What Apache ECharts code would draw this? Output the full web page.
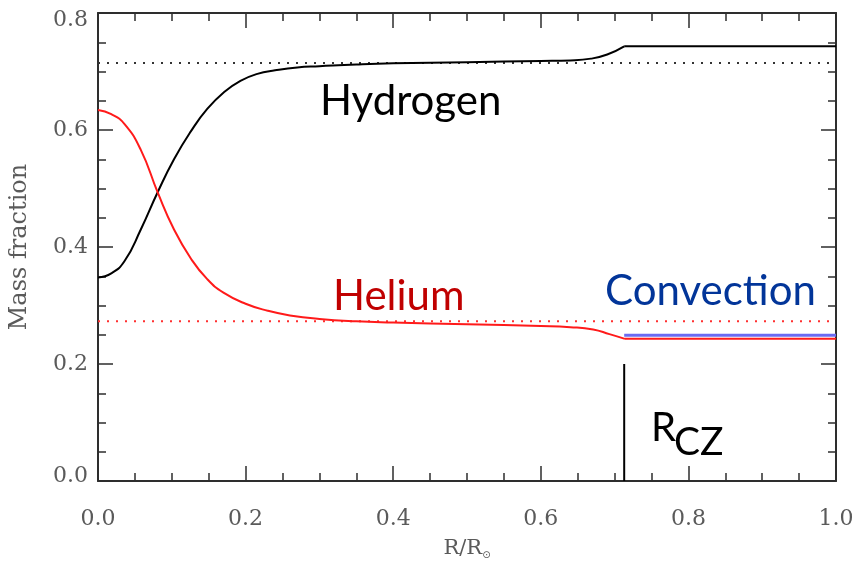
<!DOCTYPE html>
<html>
<head>
<meta charset="utf-8">
<script src="https://cdn.jsdelivr.net/npm/echarts@6/dist/echarts.min.js"></script>
<style>
  html, body { margin: 0; padding: 0; background: #fff; }
  #container { width: 858px; height: 565px; }
</style>
</head>
<body>
<div id="container"></div>
<script>
var dom = document.getElementById("container");
var myChart = echarts.init(dom);

// hydrogen profile (radius, mass fraction)
var hydrogenR = [0, 0.018, 0.036, 0.058, 0.081, 0.103, 0.126, 0.148, 0.171, 0.193, 0.216, 0.24, 0.27, 0.3, 0.35, 0.4, 0.5, 0.6, 0.64, 0.668, 0.69, 0.713, 1.0];
var hydrogenX = [0.348, 0.355, 0.376, 0.430, 0.494, 0.550, 0.598, 0.636, 0.665, 0.684, 0.696, 0.702, 0.707, 0.709, 0.712, 0.714, 0.716, 0.718, 0.719, 0.722, 0.729, 0.743, 0.743];
// helium profile
var heliumR = [0, 0.018, 0.036, 0.058, 0.081, 0.103, 0.126, 0.148, 0.17, 0.2, 0.23, 0.26, 0.3, 0.35, 0.4, 0.5, 0.6, 0.64, 0.671, 0.693, 0.714, 1.0];
var heliumY = [0.634, 0.627, 0.610, 0.566, 0.493, 0.430, 0.380, 0.345, 0.322, 0.303, 0.291, 0.283, 0.277, 0.273, 0.271, 0.268, 0.265, 0.263, 0.259, 0.251, 0.243, 0.243];
// reference levels
var hydrogenInit = 0.7145;
var heliumInit = 0.273;
var convR = [0.713, 1.0];
var convLevel = 0.249;
var rcz = 0.713;
var rczTop = 0.2;

function pairs(xs, ys) {
    var out = [];
    for (var i = 0; i < xs.length; i++) {
        out.push([xs[i], ys[i]]);
    }
    return out;
}

var axisColor = '#2e2e2e';
var labelColor = '#5a5a5a';
var serif = 'DejaVu Serif';

function baseAxis(pos, showLabel, min, max) {
    return {
        type: 'value',
        position: pos,
        min: min,
        max: max,
        interval: 0.2,
        axisLine: { show: true, onZero: false, lineStyle: { color: axisColor, width: 2 } },
        axisTick: { show: true, inside: true, length: 15, lineStyle: { color: axisColor, width: 1.5 } },
        minorTick: { show: true, splitNumber: 4, length: 8, lineStyle: { color: axisColor, width: 1.5 } },
        splitLine: { show: false },
        axisLabel: {
            show: showLabel,
            fontFamily: serif,
            fontSize: 22,
            color: labelColor,
            formatter: function (v) { return v.toFixed(1); }
        }
    };
}

var xBottom = baseAxis('bottom', true, 0, 1.0);
xBottom.axisLabel.margin = 27;
xBottom.name = 'R/R{s|⊙}';
xBottom.nameLocation = 'middle';
xBottom.nameGap = 57;
xBottom.nameTextStyle = {
    fontFamily: serif, fontSize: 21, color: labelColor,
    rich: { s: { fontFamily: 'DejaVu Sans', fontSize: 10, color: labelColor, verticalAlign: 'bottom', padding: [12, 0, 0, 0] } }
};
var xTop = baseAxis('top', false, 0, 1.0);

var yLeft = baseAxis('left', true, 0, 0.8);
yLeft.axisLabel.margin = 10;
// end labels sit inside the frame, like the original
yLeft.axisLabel.formatter = function (v) {
    var s = v.toFixed(1);
    if (v === 0) return '{lo|' + s + '}';
    if (Math.abs(v - 0.8) < 1e-9) return '{hi|' + s + '}';
    return s;
};
yLeft.axisLabel.rich = {
    lo: { fontFamily: serif, fontSize: 22, color: labelColor, padding: [0, 0, 10, 0] },
    hi: { fontFamily: serif, fontSize: 22, color: labelColor, padding: [14, 0, 0, 0] }
};
yLeft.name = 'Mass fraction';
yLeft.nameLocation = 'middle';
yLeft.nameGap = 66;
yLeft.nameTextStyle = { fontFamily: serif, fontSize: 24, color: labelColor };
var yRight = baseAxis('right', false, 0, 0.8);

function lineSeries(data, color, width, dash, smooth) {
    return {
        type: 'line',
        data: data,
        showSymbol: false,
        symbol: 'none',
        silent: true,
        animation: false,
        smooth: smooth || false,
        lineStyle: { color: color, width: width, type: dash || 'solid' }
    };
}

var hKink = hydrogenR.indexOf(0.713);
var heKink = heliumR.indexOf(0.714);
var hAll = pairs(hydrogenR, hydrogenX);
var heAll = pairs(heliumR, heliumY);

var option = {
    backgroundColor: '#ffffff',
    animation: false,
    grid: { left: 96, right: 22, top: 13, bottom: 72 },
    xAxis: [xBottom, xTop],
    yAxis: [yLeft, yRight],
    series: [
        lineSeries([[0, hydrogenInit], [1, hydrogenInit]], '#333333', 2, [2, 7]),
        lineSeries([[0, heliumInit], [1, heliumInit]], '#ff3030', 2, [2, 7]),
        lineSeries(pairs(convR, [convLevel, convLevel]), '#6b6bf2', 3),
        lineSeries(hAll.slice(0, hKink + 1), '#000000', 2, null, true),
        lineSeries(hAll.slice(hKink), '#000000', 2),
        lineSeries(heAll.slice(0, heKink + 1), '#ff1a1a', 2, null, true),
        lineSeries(heAll.slice(heKink), '#ff1a1a', 2),
        lineSeries([[rcz, 0], [rcz, rczTop]], '#000000', 2)
    ],
    graphic: [
        { type: 'text', left: 320, top: 80, silent: true,
          style: { text: 'Hydrogen', font: '42px Lato', fill: '#000000' } },
        { type: 'text', left: 333, top: 275, silent: true,
          style: { text: 'Helium', font: '42px Lato', fill: '#c00000' } },
        { type: 'text', left: 605, top: 270, silent: true,
          style: { text: 'Convection', font: '42px Lato', fill: '#023599' } },
        { type: 'text', left: 651, top: 408, silent: true,
          style: { text: 'R', font: '40px Lato', fill: '#000000' } },
        { type: 'text', left: 674, top: 423, silent: true,
          style: { text: 'CZ', font: '39px Lato', fill: '#000000' } }
    ]
};

myChart.setOption(option, true);
</script>
</body>
</html>
